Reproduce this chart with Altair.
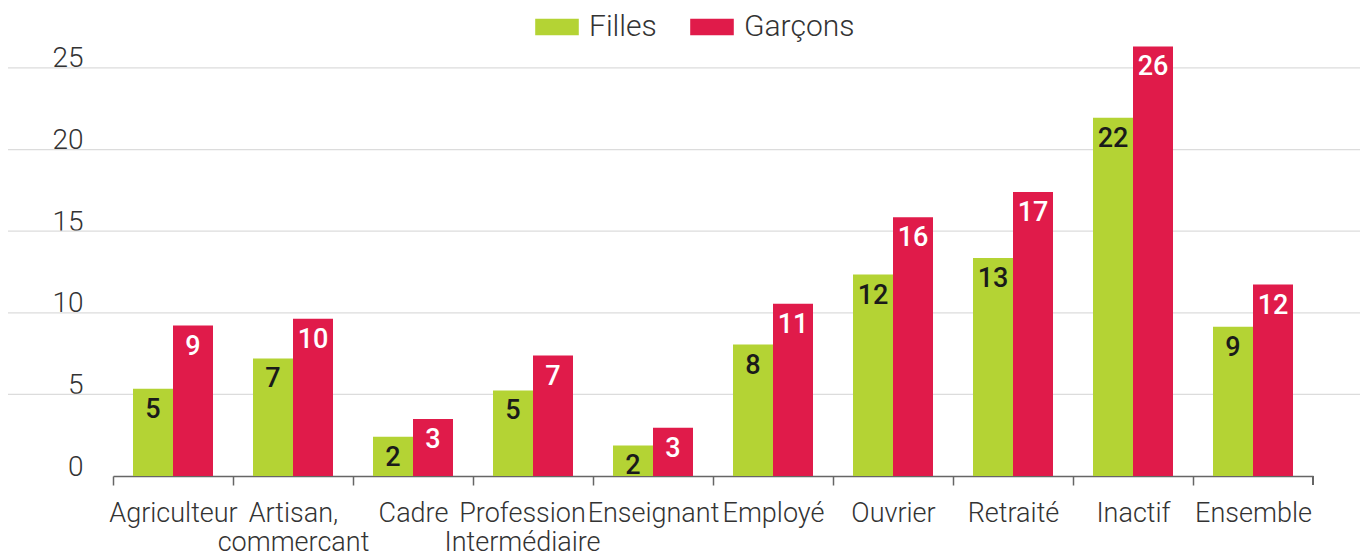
import altair as alt
import pandas as pd

categories = ["Agriculteur", "Artisan, commercant", "Cadre", "Profession Intermédiaire",
              "Enseignant", "Employé", "Ouvrier", "Retraité", "Inactif", "Ensemble"]
filles = [5.34, 7.2, 2.4, 5.24, 1.87, 8.05, 12.34, 13.36, 21.95, 9.15]
garcons = [9.22, 9.64, 3.5, 7.38, 2.95, 10.56, 15.85, 17.4, 26.32, 11.73]
filles_lbl = [5, 7, 2, 5, 2, 8, 12, 13, 22, 9]
garcons_lbl = [9, 10, 3, 7, 3, 11, 16, 17, 26, 12]
series = ["Filles", "Garçons"]
colors = ["#b4d334", "#e01b4a"]
grid_values = [5, 10, 15, 20, 25]
y_ticks = [0, 5, 10, 15, 20, 25]

rows = []
for i, c in enumerate(categories):
    rows.append({"cat": c, "sexe": "Filles", "val": filles[i], "lbl": str(filles_lbl[i])})
    rows.append({"cat": c, "sexe": "Garçons", "val": garcons[i], "lbl": str(garcons_lbl[i])})
df = pd.DataFrame(rows)
grid_df = pd.DataFrame({"g": grid_values})

FONT = "Roboto"
W, H = 1200, 457
PAD_R = 47

label_expr = ("datum.label == 'Artisan, commercant' ? ['Artisan,', 'commercant'] : "
              "datum.label == 'Profession Intermédiaire' ? ['Profession', 'Intermédiaire'] : datum.label")

xscale = alt.Scale(domain=categories, paddingInner=1/3, paddingOuter=1/6)
yscale = alt.Scale(domain=[0, 28], nice=False)

x_enc = alt.X("cat:N", scale=xscale, sort=categories, title=None,
              axis=alt.Axis(labelAngle=0, labelExpr=label_expr, labelFont=FONT, labelFontSize=27,
                            labelFontWeight=300, labelColor="#333333", labelLineHeight=29,
                            labelPadding=15, labelBaseline="top",
                            tickOffset=-60,
                            labelOffset={"condition": {"test": "datum.value == 'Profession Intermédiaire'",
                                                       "value": 49}, "value": 60},
                            tickSize=9, tickColor="#666666",
                            tickWidth=1.5, domainColor="#666666", domainWidth=1.5,
                            grid=False, labelOverlap=False, labelLimit=300))

grid = alt.Chart(grid_df).mark_rule(color="#dcdcdc", strokeWidth=1.2).encode(
    y=alt.Y("g:Q", scale=yscale),
    x=alt.value(-105), x2=alt.value(W + PAD_R))

bars = alt.Chart(df).mark_bar().encode(
    x=x_enc,
    xOffset=alt.XOffset("sexe:N", sort=series, scale=alt.Scale(paddingInner=0, paddingOuter=0)),
    y=alt.Y("val:Q", scale=yscale, title=None,
            axis=alt.Axis(values=y_ticks, grid=False, domain=False, ticks=False,
                          labelFont=FONT, labelFontSize=28, labelFontWeight=300,
                          labelColor="#333333", labelPadding=30, labelBaseline="alphabetic",
                          labelOffset=-1)),
    color=alt.Color("sexe:N", sort=series, scale=alt.Scale(domain=series, range=colors),
                    legend=alt.Legend(title=None, orient="none", direction="horizontal",
                                      legendX=422, legendY=-14,
                                      symbolType="M-1,-0.38H1V0.38H-1Z", symbolSize=1900,
                                      symbolStrokeWidth=0, labelFont=FONT, labelFontSize=30,
                                      labelFontWeight=300, labelColor="#333333",
                                      labelOffset=10, columnPadding=33)),
)

text = alt.Chart(df).mark_text(font=FONT, fontSize=27, fontWeight=500, baseline="middle", dy=21).encode(
    x=alt.X("cat:N", scale=xscale, sort=categories),
    xOffset=alt.XOffset("sexe:N", sort=series),
    y=alt.Y("val:Q", scale=yscale),
    text="lbl:N",
    color=alt.condition(alt.datum.sexe == "Filles", alt.value("#1a1a1a"), alt.value("#ffffff")),
)

last_tick = alt.Chart(grid_df).mark_rule(color="#666666", strokeWidth=1.5).encode(
    x=alt.value(W), y=alt.value(H), y2=alt.value(H + 9))

chart = alt.layer(grid, bars, text, last_tick).properties(
    width=W, height=H,
    padding={"left": 105, "top": 11, "right": PAD_R, "bottom": 79},
    autosize=alt.AutoSizeParams(type="none"),
).configure_view(stroke=None)

chart.save("out.html", embed_options={"renderer": "svg", "actions": False})
